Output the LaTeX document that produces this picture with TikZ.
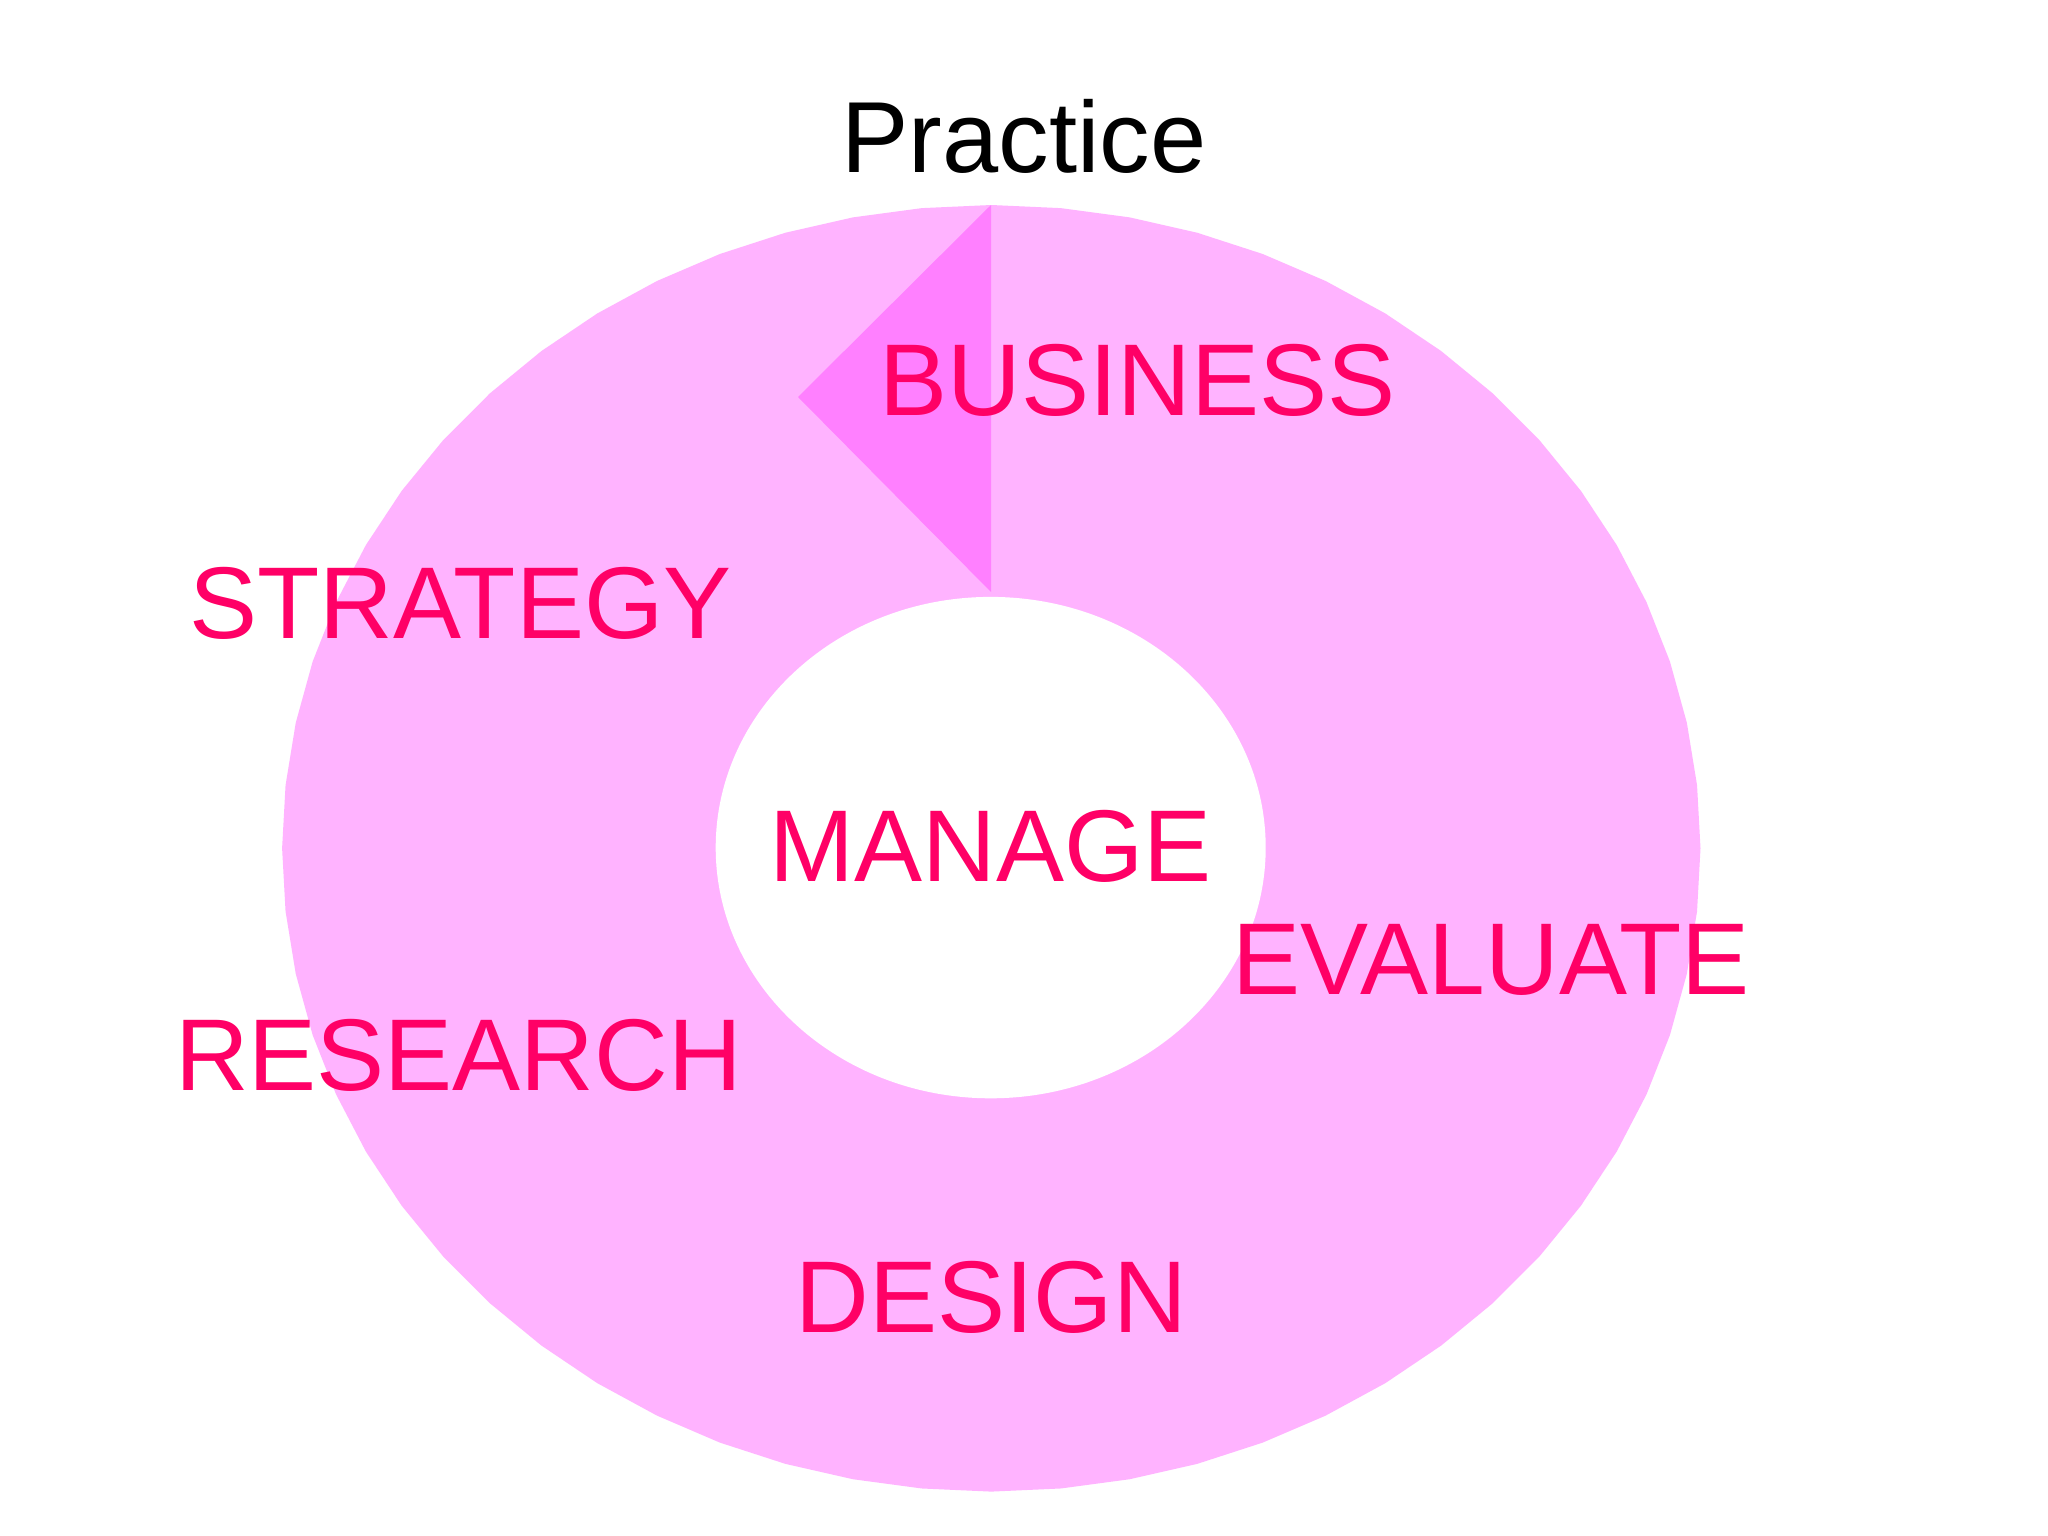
\documentclass[tikz,border=0pt]{standalone}
\usepackage{fontspec}
\setmainfont{Liberation Sans}
\definecolor{ringpink}{HTML}{FFB3FF}
\definecolor{tripink}{HTML}{FF80FF}
\definecolor{labelpink}{HTML}{FF0066}
\tikzset{
  lbl/.style={font=\fontsize{102}{120}\selectfont, text=labelpink, inner sep=0pt, anchor=base},
  ttl/.style={font=\fontsize{101}{120}\selectfont, text=black, inner sep=0pt, anchor=base}
}
\begin{document}
\begin{tikzpicture}[x=1pt,y=-1pt]
\useasboundingbox (0,0) rectangle (2048,1536);
\fill[white] (0,0) rectangle (2048,1536);
% outer ring (64-gon)
\fill[ringpink] plot[samples=65, domain=0:360] ({991.3+709.2*sin(\x)}, {848.3-643.3*cos(\x)}) -- cycle;
% inner hole
\fill[white] (990.7,847.6) ellipse [x radius=275, y radius=250.7];
% darker triangle
\fill[tripink] (991,205) -- (798,397) -- (991,592) -- cycle;
% labels
\node[ttl] (practice) at (1024,172.4) {Practice};
\node[lbl] (business) at (1137.5,415) {BUSINESS};
\node[lbl] (strategy) at (460.4,638.7) {STRATEGY};
\node[lbl] (manage) at (990.7,881.6) {MANAGE};
\node[lbl] (evaluate) at (1491,994) {EVALUATE};
\node[lbl] (research) at (458.5,1090.6) {RESEARCH};
\node[lbl] (design) at (991.4,1332) {DESIGN};
\end{tikzpicture}
\end{document}
